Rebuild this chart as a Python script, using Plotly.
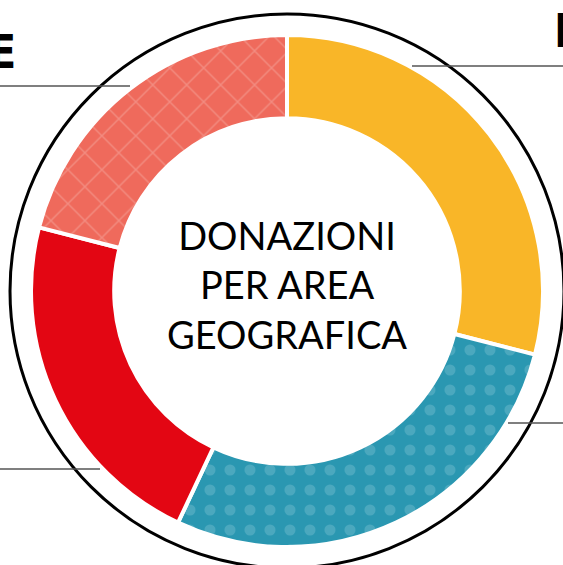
import plotly.graph_objects as go

# Data
areas = ["Nord", "Sud", "Centro", "Estero"]
shares = [29, 28, 22, 21]
colors = ["#F9B628", "#2A97B1", "#E30613", "#EF6A5C"]
pattern_shapes = ["", ".", "", "x"]
pattern_fg = ["#F9B628", "#6CB9CC", "#E30613", "#F6ACA3"]
center_title = "DONAZIONI<br>PER AREA<br>GEOGRAFICA"
edge_labels = ["E", "N"]

W, H = 563, 565
cx, cy, R = 287, 291, 256

fig = go.Figure()
fig.add_trace(go.Pie(
    labels=areas, values=shares, sort=False, direction="clockwise", rotation=0,
    hole=0.675, textinfo="none", hoverinfo="label+percent", showlegend=False,
    marker=dict(colors=colors, line=dict(color="white", width=4),
                pattern=dict(shape=pattern_shapes, fgcolor=pattern_fg,
                             size=[20, 20, 20, 24], solidity=[0.22, 0.24, 0.2, 0.12],
                             fillmode="overlay")),
    domain=dict(x=[(cx - R) / W, (cx + R) / W], y=[(H - cy - R) / H, (H - cy + R) / H]),
))

fig.add_shape(type="circle", xref="x", yref="y", x0=cx - 277, x1=cx + 277,
              y0=cy - 277, y1=cy + 277, line=dict(color="black", width=3))

for (x0, x1, y) in [(0, 130, 86), (412, 563, 66), (508, 563, 423), (0, 100, 469)]:
    fig.add_shape(type="line", xref="x", yref="y", x0=x0, x1=x1, y0=y, y1=y,
                  line=dict(color="#555555", width=1.5))

fig.add_annotation(x=cx, y=284, xref="x", yref="y", text=center_title, showarrow=False,
                   font=dict(family="Lato", size=38, color="black"), align="center")
label_font = dict(family="Liberation Sans Narrow, DejaVu Sans Condensed, Roboto, sans-serif",
                  size=46, color="black", weight="bold")
fig.add_annotation(x=18, y=52, xref="x", yref="y", text=edge_labels[0],
                   showarrow=False, xanchor="right", yanchor="middle", font=label_font)
fig.add_annotation(x=552, y=31, xref="x", yref="y", text=edge_labels[1],
                   showarrow=False, xanchor="left", yanchor="middle", font=label_font)

fig.update_layout(
    width=W, height=H, margin=dict(l=0, r=0, t=0, b=0),
    paper_bgcolor="white", plot_bgcolor="rgba(0,0,0,0)",
    xaxis=dict(range=[0, W], visible=False, fixedrange=True),
    yaxis=dict(range=[H, 0], visible=False, fixedrange=True),
)
fig.write_html("out.html", config={"displayModeBar": False},
               post_script="document.body.style.margin='0';")
